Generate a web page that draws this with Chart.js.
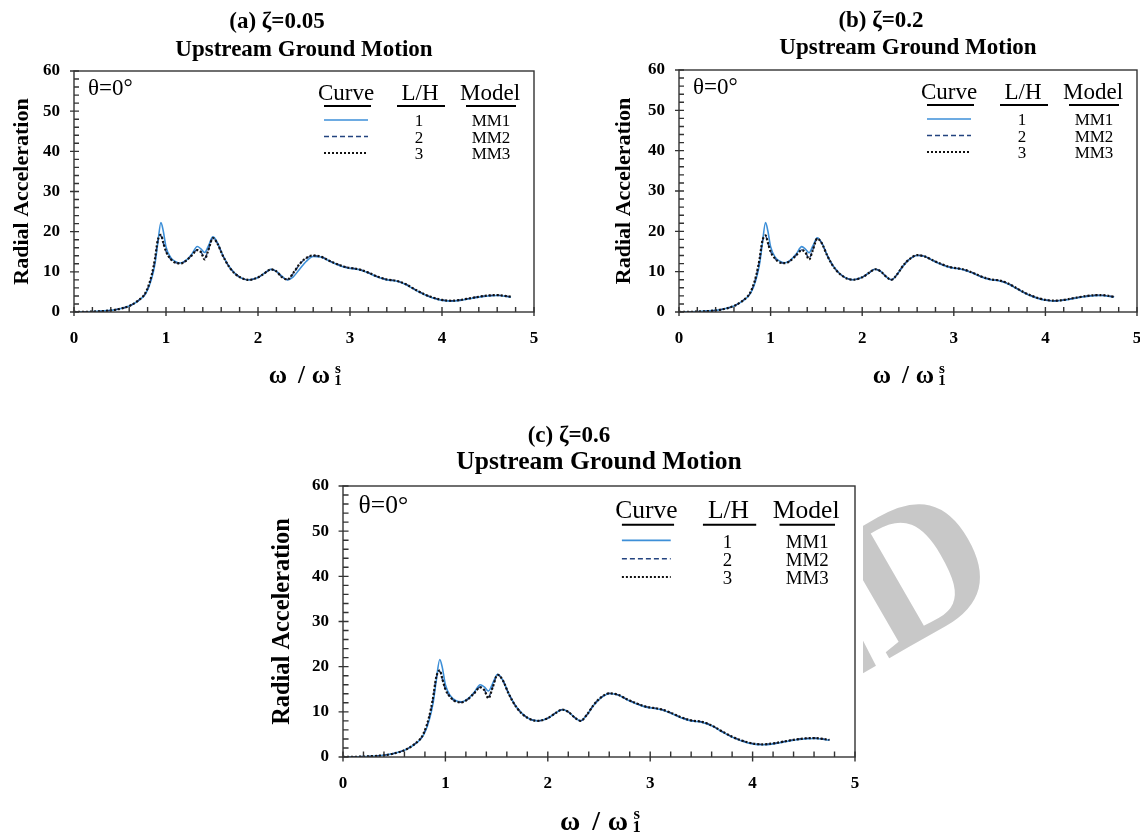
<!DOCTYPE html>
<html>
<head>
<meta charset="utf-8">
<script src="https://cdn.jsdelivr.net/npm/chart.js@4.4.0/dist/chart.umd.min.js"></script>
<style>
    body { margin: 0; background: #fff; width: 1140px; height: 834px; overflow: hidden; position: relative; }
    canvas { position: absolute; }
</style>
</head>
<body>
<canvas id="chartA" width="560" height="395" style="left:0;top:0"></canvas>
<canvas id="chartB" width="560" height="395" style="left:600px;top:0"></canvas>
<canvas id="chartC" width="620" height="424" style="left:260px;top:410px"></canvas>
<canvas id="wm" width="170" height="290" style="left:863px;top:470px"></canvas>
<script>
// frequency ratio  w / w1s
const omega = [0, 0.2, 0.4, 0.5, 0.6, 0.7, 0.78, 0.84, 0.88, 0.91, 0.945, 0.97, 1.0, 1.05, 1.1, 1.16, 1.22, 1.28, 1.34, 1.38,
    1.42, 1.46, 1.51, 1.56, 1.62, 1.7, 1.8, 1.9, 2.0, 2.08, 2.14, 2.2, 2.26, 2.32, 2.38, 2.45, 2.52, 2.6, 2.68, 2.8,
    2.95, 3.1, 3.2, 3.3, 3.4, 3.5, 3.6, 3.7, 3.8, 3.9, 4.0, 4.1, 4.2, 4.3, 4.4, 4.5, 4.6, 4.75]

// (a) zeta = 0.05
const mm1A = [0.0, 0.1, 0.4, 0.8, 1.5, 2.8, 4.6, 8.0, 12.0, 17.0, 22.3, 20.2, 16.2, 13.6, 12.6, 12.2, 12.9, 14.4, 16.3, 15.7,
    14.8, 16.4, 18.7, 17.2, 14.0, 10.9, 8.7, 8.0, 8.6, 9.8, 10.6, 10.1, 8.9, 8.0, 8.7, 10.6, 12.5, 13.8, 13.7, 12.4,
    11.1, 10.5, 9.7, 8.7, 8.0, 7.7, 6.9, 5.6, 4.4, 3.5, 2.9, 2.7, 2.9, 3.3, 3.7, 4.0, 4.1, 3.7]
const mm2A = [0.0, 0.1, 0.4, 0.8, 1.5, 2.9, 4.8, 8.6, 13.0, 17.6, 19.0, 17.2, 15.1, 13.2, 12.3, 12.1, 12.8, 14.1, 15.5, 15.0,
    13.4, 15.5, 18.4, 17.0, 13.9, 10.8, 8.7, 8.0, 8.6, 9.8, 10.6, 10.1, 8.7, 8.1, 9.5, 11.8, 13.3, 14.0, 13.8, 12.5,
    11.2, 10.6, 9.8, 8.8, 8.1, 7.8, 7.0, 5.7, 4.5, 3.6, 3.0, 2.8, 3.0, 3.4, 3.8, 4.1, 4.2, 3.8]
const mm3A = [0.0, 0.1, 0.4, 0.8, 1.5, 2.9, 4.9, 8.8, 13.2, 17.8, 19.2, 17.3, 15.1, 13.2, 12.3, 12.1, 12.8, 14.1, 15.4, 14.9,
    13.1, 15.4, 18.4, 17.0, 13.9, 10.8, 8.7, 8.0, 8.6, 9.8, 10.6, 10.1, 8.7, 8.1, 9.6, 11.9, 13.4, 14.1, 13.8, 12.5,
    11.2, 10.6, 9.8, 8.8, 8.1, 7.8, 7.0, 5.7, 4.5, 3.6, 3.0, 2.8, 3.0, 3.4, 3.8, 4.1, 4.2, 3.8]

// (b) zeta = 0.2
const mm1B = [0.0, 0.1, 0.4, 0.8, 1.5, 2.8, 4.6, 8.0, 12.0, 17.0, 22.2, 20.1, 16.2, 13.6, 12.6, 12.2, 12.9, 14.4, 16.2, 15.6,
    14.7, 16.3, 18.4, 17.1, 14.0, 10.9, 8.7, 8.0, 8.6, 9.8, 10.6, 10.1, 8.8, 8.0, 9.3, 11.5, 13.1, 14.0, 13.8, 12.4,
    11.1, 10.5, 9.7, 8.7, 8.0, 7.7, 6.9, 5.6, 4.4, 3.5, 2.9, 2.7, 2.9, 3.3, 3.7, 4.0, 4.1, 3.7]
const mm2B = [0.0, 0.1, 0.4, 0.8, 1.5, 2.9, 4.8, 8.6, 13.0, 17.5, 18.9, 17.1, 15.0, 13.2, 12.3, 12.1, 12.8, 14.1, 15.4, 14.9,
    13.3, 15.4, 18.2, 17.0, 13.9, 10.8, 8.7, 8.0, 8.6, 9.8, 10.6, 10.1, 8.8, 8.0, 9.3, 11.6, 13.2, 14.1, 13.8, 12.5,
    11.2, 10.6, 9.8, 8.8, 8.1, 7.8, 7.0, 5.7, 4.5, 3.6, 3.0, 2.8, 3.0, 3.4, 3.8, 4.1, 4.2, 3.8]
const mm3B = [0.0, 0.1, 0.4, 0.8, 1.5, 2.9, 4.9, 8.8, 13.2, 17.6, 19.0, 17.2, 15.0, 13.2, 12.3, 12.1, 12.8, 14.1, 15.3, 14.8,
    13.0, 15.3, 18.2, 17.0, 13.9, 10.8, 8.7, 8.0, 8.6, 9.8, 10.6, 10.1, 8.8, 8.0, 9.3, 11.6, 13.2, 14.1, 13.8, 12.5,
    11.2, 10.6, 9.8, 8.8, 8.1, 7.8, 7.0, 5.7, 4.5, 3.6, 3.0, 2.8, 3.0, 3.4, 3.8, 4.1, 4.2, 3.8]

// (c) zeta = 0.6
const mm1C = [0.0, 0.1, 0.4, 0.8, 1.5, 2.8, 4.6, 8.0, 12.0, 16.8, 21.6, 19.8, 16.0, 13.5, 12.5, 12.2, 12.9, 14.3, 16.0, 15.5,
    14.6, 16.2, 18.3, 17.0, 14.0, 10.9, 8.7, 8.0, 8.6, 9.8, 10.5, 10.0, 8.8, 8.0, 9.3, 11.5, 13.1, 14.0, 13.8, 12.4,
    11.1, 10.5, 9.7, 8.7, 8.0, 7.7, 6.9, 5.6, 4.4, 3.5, 2.9, 2.7, 2.9, 3.3, 3.7, 4.0, 4.1, 3.7]
const mm2C = [0.0, 0.1, 0.4, 0.8, 1.5, 2.9, 4.8, 8.6, 13.0, 17.5, 19.0, 17.2, 15.0, 13.2, 12.3, 12.1, 12.8, 14.1, 15.5, 14.9,
    13.3, 15.4, 18.2, 17.0, 13.9, 10.8, 8.7, 8.0, 8.6, 9.8, 10.5, 10.0, 8.8, 8.0, 9.3, 11.6, 13.2, 14.1, 13.8, 12.5,
    11.2, 10.6, 9.8, 8.8, 8.1, 7.8, 7.0, 5.7, 4.5, 3.6, 3.0, 2.8, 3.0, 3.4, 3.8, 4.1, 4.2, 3.8]
const mm3C = [0.0, 0.1, 0.4, 0.8, 1.5, 2.9, 4.9, 8.8, 13.2, 17.6, 19.2, 17.3, 15.0, 13.2, 12.3, 12.1, 12.8, 14.1, 15.4, 14.8,
    13.0, 15.3, 18.2, 17.0, 13.9, 10.8, 8.7, 8.0, 8.6, 9.8, 10.5, 10.0, 8.8, 8.0, 9.3, 11.6, 13.2, 14.1, 13.8, 12.5,
    11.2, 10.6, 9.8, 8.8, 8.1, 7.8, 7.0, 5.7, 4.5, 3.6, 3.0, 2.8, 3.0, 3.4, 3.8, 4.1, 4.2, 3.8]

const xTickValues = [0, 1, 2, 3, 4, 5]
const yTickValues = [0, 10, 20, 30, 40, 50, 60]
const curveNames = ['MM1', 'MM2', 'MM3']
const lhValues = ['1', '2', '3']

const SERIF = '"Liberation Serif", "Times New Roman", serif'
Chart.defaults.font.family = SERIF
Chart.defaults.color = '#000'

const styles = [
    { color: '#3d8fd8', width: 1.6, dash: [] },
    { color: '#23437f', width: 1.4, dash: [5, 3] },
    { color: '#111111', width: 2.2, dash: [2, 2] }
]

// layout of each panel (canvas coords)
const panels = [
    { id: 'chartA', title: '(a) \u03b6=0.05', series: [mm1A, mm2A, mm3A], k: 1, w: 560, h: 395,
        area: { left: 74, right: 534, top: 71, bottom: 312 }, titleY: 22, subY: 50, yTitleX: 22, xTitleDy: 71 },
    { id: 'chartB', title: '(b) \u03b6=0.2', series: [mm1B, mm2B, mm3B], k: 1, w: 560, h: 395,
        area: { left: 79, right: 537, top: 70, bottom: 312 }, titleY: 21, subY: 48, yTitleX: 24, xTitleDy: 71 },
    { id: 'chartC', title: '(c) \u03b6=0.6', series: [mm1C, mm2C, mm3C], k: 1.11, w: 620, h: 424,
        area: { left: 83, right: 595, top: 76, bottom: 347 }, titleY: 26, subY: 52, yTitleX: 23, xTitleDy: 73 }
]

const decor = (p) => ({
    id: 'decor',
    afterDraw(chart) {
        const ctx = chart.ctx
        const a = chart.chartArea
        const k = p.k
        const xs = chart.scales.x
        const ys = chart.scales.y
        const cx = (a.left + a.right) / 2
        ctx.save()

        // box + inward ticks
        ctx.strokeStyle = '#333'
        ctx.lineWidth = 1.4
        ctx.strokeRect(a.left, a.top, a.right - a.left, a.bottom - a.top)
        ctx.beginPath()
        for (let i = 0; i <= 25; i++) {
            const px = xs.getPixelForValue(i * 0.2)
            ctx.moveTo(px, i % 5 ? a.bottom : a.bottom + 4 * k)
            ctx.lineTo(px, a.bottom - 5 * k)
        }
        for (let j = 0; j <= 30; j++) {
            const py = ys.getPixelForValue(j * 2)
            ctx.moveTo(j % 5 ? a.left : a.left - 4 * k, py)
            ctx.lineTo(a.left + 5 * k, py)
        }
        ctx.stroke()

        // titles
        ctx.fillStyle = '#000'
        ctx.textAlign = 'center'
        ctx.textBaseline = 'middle'
        ctx.font = `bold 23px ${SERIF}`
        ctx.fillText(p.title, cx - 27 * k, p.titleY)
        ctx.font = `bold ${23 * k}px ${SERIF}`
        ctx.fillText('Upstream Ground Motion', cx, p.subY)

        // theta label
        ctx.textAlign = 'left'
        ctx.font = `${23 * k}px ${SERIF}`
        ctx.fillText('\u03b8=0\u00b0', a.left + 14 * k, a.top + 18 * k)

        // legend table
        const R = a.right
        const T = a.top
        ctx.textAlign = 'center'
        ctx.font = `${23 * k}px ${SERIF}`
        ctx.fillText('Curve', R - 188 * k, T + 23 * k)
        ctx.fillText('L/H', R - 114 * k, T + 23 * k)
        ctx.fillText('Model', R - 44 * k, T + 23 * k)
        ctx.lineWidth = 1.8 * k
        ctx.strokeStyle = '#000'
        ctx.beginPath()
        ;[[-210, -163], [-137, -89], [-68, -18]].forEach(u => {
            ctx.moveTo(R + u[0] * k, T + 35 * k)
            ctx.lineTo(R + u[1] * k, T + 35 * k)
        })
        ctx.stroke()
        const rows = [51, 67.5, 84]
        ctx.font = `${17 * k}px ${SERIF}`
        rows.forEach((ry, i) => {
            const st = styles[i]
            ctx.beginPath()
            ctx.strokeStyle = st.color
            ctx.lineWidth = st.width
            ctx.setLineDash(st.dash)
            ctx.moveTo(R - 210 * k, T + (ry - 2) * k)
            ctx.lineTo(R - 166 * k, T + (ry - 2) * k)
            ctx.stroke()
            ctx.setLineDash([])
            ctx.fillText(lhValues[i], R - 115 * k, T + ry * k)
            ctx.fillText(curveNames[i], R - 43 * k, T + ry * k)
        })

        // x axis title  w / w1^s
        const by = a.bottom + p.xTitleDy
        ctx.textBaseline = 'alphabetic'
        ctx.font = `bold ${25 * k}px ${SERIF}`
        ctx.fillText('\u03c9', cx - 26 * k, by)
        ctx.fillText('/', cx - 2.5 * k, by)
        ctx.fillText('\u03c9', cx + 17 * k, by)
        ctx.font = `bold ${15 * k}px ${SERIF}`
        ctx.fillText('s', cx + 34 * k, by - 10 * k)
        ctx.fillText('1', cx + 34 * k, by + 2 * k)
        ctx.restore()
    }
})

const makePanel = (p) => {
    const a = p.area
    new Chart(document.getElementById(p.id), {
        type: 'line',
        data: {
            datasets: p.series.map((s, i) => ({
                label: curveNames[i],
                data: omega.map((x, n) => ({ x: x, y: s[n] })),
                borderColor: styles[i].color,
                borderWidth: styles[i].width,
                borderDash: styles[i].dash,
                pointRadius: 0,
                fill: false,
                cubicInterpolationMode: 'monotone',
                order: 3 - i
            }))
        },
        options: {
            responsive: false,
            animation: false,
            devicePixelRatio: 1,
            layout: { padding: { left: 0, top: a.top, right: p.w - a.right, bottom: 0 } },
            plugins: { legend: { display: false }, tooltip: { enabled: false }, title: { display: false } },
            scales: {
                x: {
                    type: 'linear', min: 0, max: 5,
                    afterBuildTicks: s => { s.ticks = xTickValues.map(v => ({ value: v })) },
                    afterFit: s => { s.height = p.h - a.bottom },
                    grid: { display: false, drawTicks: false },
                    border: { display: false },
                    ticks: { font: { size: 17, weight: 'bold' }, color: '#000', padding: 16, maxRotation: 0, autoSkip: false }
                },
                y: {
                    type: 'linear', min: 0, max: 60,
                    afterBuildTicks: s => { s.ticks = yTickValues.map(v => ({ value: v })) },
                    afterFit: s => { s.width = a.left },
                    grid: { display: false, drawTicks: false },
                    border: { display: false },
                    ticks: { font: { size: 17, weight: 'bold' }, color: '#000', padding: 14 },
                    title: {
                        display: true, text: 'Radial Acceleration', color: '#000',
                        font: { size: 22 * p.k, weight: 'bold', lineHeight: 1.2 },
                        padding: { top: p.yTitleX - 13.2 * p.k, bottom: 0 }
                    }
                }
            }
        },
        plugins: [decor(p)]
    })
}

panels.forEach(makePanel)

// grey "...ED" of the page watermark, cut by the figure's right edge
const wm = document.getElementById('wm').getContext('2d')
wm.fillStyle = '#c8c8c8'
wm.translate(52, 99)
wm.rotate(-Math.PI / 6)
wm.font = `bold 195px ${SERIF}`
wm.textAlign = 'right'
wm.fillText('ED', 0.361 * 195, 0.33 * 195)
</script>
</body>
</html>
